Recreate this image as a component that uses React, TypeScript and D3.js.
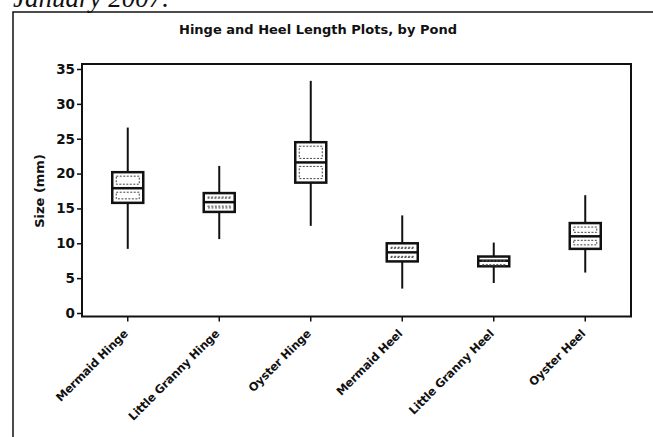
import React, { useEffect, useRef } from "react";
import * as d3 from "d3";

// box plot values (mm)
const categories = [
  "Mermaid Hinge",
  "Little Granny Hinge",
  "Oyster Hinge",
  "Mermaid Heel",
  "Little Granny Heel",
  "Oyster Heel",
];
const whiskerLow = [9.2, 10.6, 12.5, 3.5, 4.3, 5.8];
const q1 = [15.8, 14.5, 18.7, 7.4, 6.7, 9.2];
const medians = [17.9, 15.9, 21.6, 8.7, 7.5, 11.0];
const q3 = [20.2, 17.2, 24.5, 10.0, 8.1, 12.9];
const whiskerHigh = [26.6, 21.1, 33.3, 14.0, 10.1, 16.9];
const yTicks = [0, 5, 10, 15, 20, 25, 30, 35];

const W = 653;
const H = 437;

export default function App() {
  const ref = useRef<SVGSVGElement>(null);

  useEffect(() => {
    const svg = d3.select(ref.current).attr("width", W).attr("height", H);
    svg.selectAll("*").remove();

    const left = 82;
    const right = 631;
    const frameTop = 64;
    const frameBottom = 316.5;
    const font = "'DejaVu Sans', Verdana, sans-serif";
    const ink = "#111";

    const data = categories.map((c, i) => ({
      name: c,
      lo: whiskerLow[i],
      q1: q1[i],
      med: medians[i],
      q3: q3[i],
      hi: whiskerHigh[i],
    }));

    const x = d3.scaleBand().domain(categories).range([left, right]).padding(0);
    const y = d3.scaleLinear().domain([0, 35]).range([313, 69]);

    // page heading, cut off at top like the scan
    svg
      .append("text")
      .attr("x", 13)
      .attr("y", 7)
      .attr("font-family", "'Liberation Serif', serif")
      .attr("font-style", "italic")
      .attr("font-size", 27)
      .attr("fill", ink)
      .text("January 2007.");

    // outer border
    svg
      .append("path")
      .attr("d", `M13,${H} L13,12 L${W},12`)
      .attr("fill", "none")
      .attr("stroke", ink)
      .attr("stroke-width", 1.5);

    // title
    svg
      .append("text")
      .attr("x", 318)
      .attr("y", 34)
      .attr("text-anchor", "middle")
      .attr("font-family", font)
      .attr("font-weight", "bold")
      .attr("font-size", 13)
      .attr("fill", ink)
      .text("Hinge and Heel Length Plots, by Pond");

    // plot frame
    svg
      .append("rect")
      .attr("x", left)
      .attr("y", frameTop)
      .attr("width", right - left)
      .attr("height", frameBottom - frameTop)
      .attr("fill", "none")
      .attr("stroke", ink)
      .attr("stroke-width", 2);

    // y axis ticks
    const yAxis = svg
      .append("g")
      .attr("transform", `translate(${left},0)`)
      .call(d3.axisLeft(y).tickValues(yTicks).tickSize(5).tickPadding(2));
    yAxis.select(".domain").remove();
    yAxis.selectAll("line").attr("stroke", ink).attr("stroke-width", 1.5);
    yAxis
      .selectAll("text")
      .attr("font-family", font)
      .attr("font-weight", "bold")
      .attr("font-size", 13.5)
      .attr("fill", ink);

    // x axis ticks
    const xAxis = svg
      .append("g")
      .attr("transform", `translate(0,${frameBottom})`)
      .call(d3.axisBottom(x).tickSize(5).tickPadding(3));
    xAxis.select(".domain").remove();
    xAxis.selectAll("line").attr("stroke", ink).attr("stroke-width", 1.5);
    xAxis
      .selectAll("text")
      .attr("font-family", font)
      .attr("font-weight", "bold")
      .attr("font-size", 11.5)
      .attr("letter-spacing", -0.2)
      .attr("fill", ink)
      .attr("text-anchor", "end")
      .attr("x", 0)
      .attr("y", 0)
      .attr("dy", "0.35em")
      .attr("transform", "translate(-2,15) rotate(-45)");

    // y label
    svg
      .append("text")
      .attr("transform", `translate(44,191) rotate(-90)`)
      .attr("text-anchor", "middle")
      .attr("font-family", font)
      .attr("font-weight", "bold")
      .attr("font-size", 13)
      .attr("fill", ink)
      .text("Size (mm)");

    // boxes
    const bw = 31;
    const g = svg
      .selectAll(".box")
      .data(data)
      .join("g")
      .attr("class", "box")
      .attr("transform", (d) => `translate(${x(d.name)! + x.bandwidth() / 2},0)`);

    g.append("line")
      .attr("y1", (d) => y(d.lo))
      .attr("y2", (d) => y(d.hi))
      .attr("stroke", ink)
      .attr("stroke-width", 2);

    g.append("rect")
      .attr("x", -bw / 2)
      .attr("y", (d) => y(d.q3))
      .attr("width", bw)
      .attr("height", (d) => y(d.q1) - y(d.q3))
      .attr("fill", "#fff")
      .attr("stroke", ink)
      .attr("stroke-width", 2.5);

    g.append("line")
      .attr("x1", -bw / 2)
      .attr("x2", bw / 2)
      .attr("y1", (d) => y(d.med))
      .attr("y2", (d) => y(d.med))
      .attr("stroke", ink)
      .attr("stroke-width", 2.5);

    // dotted inner outlines in each half
    const inset = 4;
    g.append("rect")
      .attr("x", -bw / 2 + inset)
      .attr("y", (d) => y(d.q3) + inset)
      .attr("width", bw - 2 * inset)
      .attr("height", (d) => Math.max(1, y(d.med) - y(d.q3) - 2 * inset))
      .attr("fill", "none")
      .attr("stroke", "#444")
      .attr("stroke-width", 1)
      .attr("stroke-dasharray", "2,1.5");

    g.append("rect")
      .attr("x", -bw / 2 + inset)
      .attr("y", (d) => y(d.med) + inset)
      .attr("width", bw - 2 * inset)
      .attr("height", (d) => Math.max(1, y(d.q1) - y(d.med) - 2 * inset))
      .attr("fill", "none")
      .attr("stroke", "#444")
      .attr("stroke-width", 1)
      .attr("stroke-dasharray", "2,1.5");
  }, []);

  return <svg ref={ref} style={{ position: "absolute", left: 0, top: 0 }} />;
}
